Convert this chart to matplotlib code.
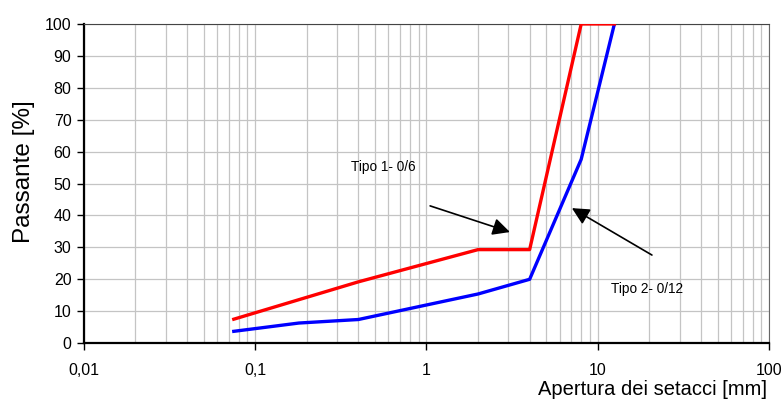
import numpy as np
import matplotlib.pyplot as plt
from matplotlib.ticker import FixedLocator, LogLocator, NullFormatter

plt.rcParams['font.family'] = ['Liberation Sans', 'DejaVu Sans']

# Curve granulometriche
x_tipo1 = [0.075, 0.4, 2, 4, 8, 12.5]
y_tipo1 = [7.5, 19.2, 29.3, 29.3, 100, 100]

x_tipo2 = [0.075, 0.18, 0.4, 2, 4, 8, 12.5]
y_tipo2 = [3.7, 6.3, 7.4, 15.4, 20, 57.6, 100]

x_ticks = [0.01, 0.1, 1, 10, 100]
x_labels = ["0,01", "0,1", "1", "10", "100"]
y_ticks = list(range(0, 101, 10))

fig = plt.figure(figsize=(7.84, 3.99), dpi=100)
ax = fig.add_axes([0.107, 0.140, 0.874, 0.800])

ax.plot(x_tipo2, y_tipo2, color='#0000ff', lw=2.4, solid_joinstyle='round', zorder=3)
ax.plot(x_tipo1, y_tipo1, color='#ff0000', lw=2.4, solid_joinstyle='round', zorder=4)

ax.set_xscale('log')
ax.set_xlim(0.01, 100)
ax.set_ylim(0, 100)
ax.xaxis.set_major_locator(FixedLocator(x_ticks))
ax.set_xticklabels(x_labels)
ax.xaxis.set_minor_locator(LogLocator(base=10, subs=np.arange(2, 10)))
ax.xaxis.set_minor_formatter(NullFormatter())
ax.set_yticks(y_ticks)

ax.grid(which='both', axis='x', color='#c4c4c4', lw=0.9)
ax.grid(which='major', axis='y', color='#c4c4c4', lw=0.9)
ax.set_axisbelow(True)

ax.tick_params(axis='both', which='major', labelsize=11.5, length=5, width=1, direction='out')
ax.tick_params(axis='x', which='major', pad=9)
ax.tick_params(axis='y', which='major', pad=4)
ax.tick_params(which='minor', length=0)

ax.spines['left'].set_linewidth(1.6)
ax.spines['bottom'].set_linewidth(1.6)
ax.spines['top'].set_color('#444444')
ax.spines['right'].set_color('#666666')

ax.set_ylabel("Passante [%]", fontsize=17.5)
ax.yaxis.set_label_coords(-0.072, 0.536)
fig.text(0.978, 0.025, "Apertura dei setacci [mm]", fontsize=14.5, ha='right', va='center')

arrow = dict(arrowstyle='-|>', color='black', lw=1.2, mutation_scale=26,
             shrinkA=0, shrinkB=0)
ax.text(0.556, 55.2, "Tipo 1- 0/6", fontsize=9.8, ha='center', va='center')
ax.annotate("", xy=(3.07, 34.8), xytext=(1.05, 43), arrowprops=arrow)
ax.text(19.4, 16.9, "Tipo 2- 0/12", fontsize=9.8, ha='center', va='center')
ax.annotate("", xy=(7.06, 42.3), xytext=(20.7, 27.6), arrowprops=arrow)

fig.savefig("out.png", dpi=100)
